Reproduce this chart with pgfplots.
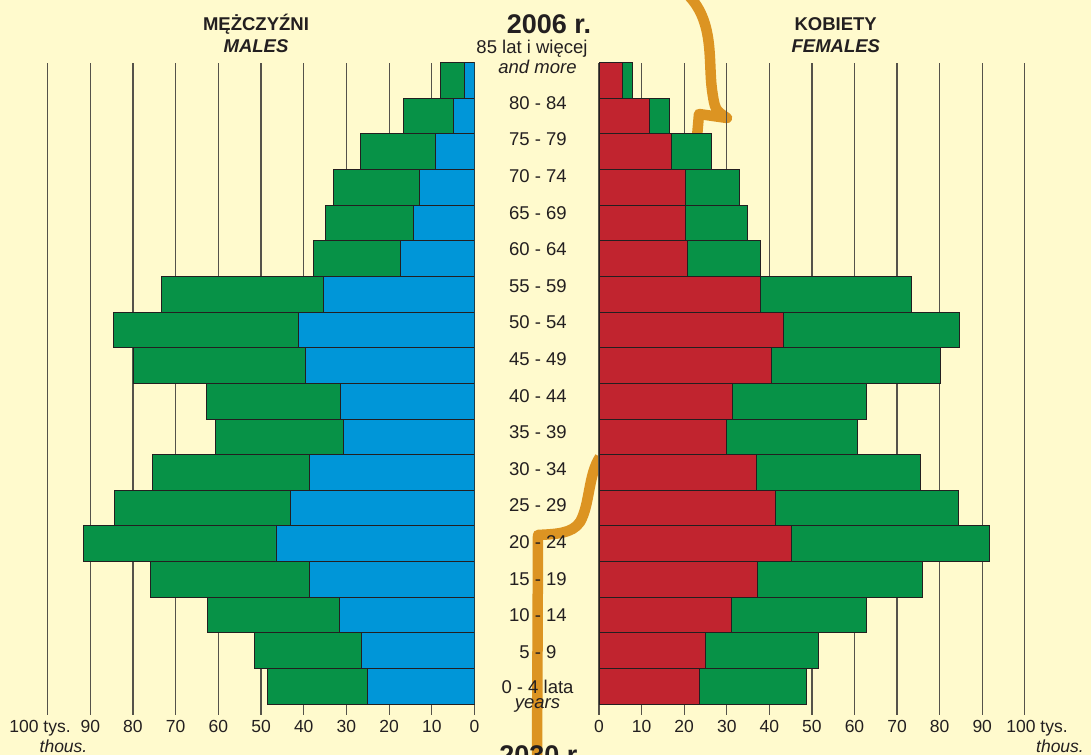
\documentclass[border=0pt]{standalone}
\usepackage{pgfplots}
\pgfplotsset{compat=1.18}
\usepackage{pgfplotstable}
\usepackage{fontspec}
\setmainfont{Liberation Sans}
\definecolor{bg}{HTML}{FFFACD}
\definecolor{mgreen}{HTML}{079247}
\definecolor{mblue}{HTML}{0096D8}
\definecolor{fred}{HTML}{C1242F}
\definecolor{txt}{HTML}{231F20}
\definecolor{grd}{HTML}{55524A}
\definecolor{orng}{HTML}{DC9422}

\pgfplotstableread{
k mt mb ft fr
0 48.6 25.0 48.6 23.5
1 51.5 26.5 51.6 24.9
2 62.6 31.7 62.7 31.0
3 75.8 38.7 75.9 37.2
4 91.6 46.5 91.8 45.3
5 84.4 43.0 84.5 41.5
6 75.5 38.7 75.5 37.0
7 60.7 30.6 60.7 30.0
8 62.7 31.3 62.8 31.4
9 80.0 39.5 80.2 40.6
10 84.6 41.2 84.6 43.4
11 73.3 35.3 73.3 38.0
12 37.8 17.4 37.8 20.7
13 34.8 14.4 34.8 20.2
14 33.1 12.8 32.9 20.2
15 26.6 9.25 26.3 17.1
16 16.7 5.0 16.5 11.8
17 7.9 2.3 7.75 5.5
}\data

\pgfplotsset{
  pyr/.style={
    scale only axis,
    height=652.3bp,
    ymin=-0.809, ymax=17.5,
    xmin=0, xmax=100,
    ytick=\empty,
    xtick={0,10,...,100},
    xticklabels={0,10,20,30,40,50,60,70,80,90,{}},
    /pgf/number format/assume math mode=true,
    xticklabel style={font=\fontsize{17.5bp}{17.5bp}\selectfont, text=txt, inner sep=0pt, yshift=-5.5bp},
    axis line style={draw=none},
    major tick length=0pt,
    xmajorgrids,
    grid style={draw=grd, line width=1.2bp},
    xbar, bar width=1, bar shift=0pt,
    every axis plot/.append style={draw=txt, line width=0.9bp, bar shift=0pt},
  }
}

\newcommand{\lab}{\fontsize{18.5bp}{20bp}\selectfont}

\begin{document}
\begin{tikzpicture}[x=1bp,y=1bp]
\useasboundingbox (0,0) rectangle (1091,755);
\clip (0,0) rectangle (1091,755);
\fill[bg] (0,0) rectangle (1091,755);

% decorative orange connector
\draw[orng, line width=10.5bp, line cap=round, line join=round]
  (686,762) .. controls (715,735) and (708,695) .. (712,665)
  .. controls (715,645) .. (727,637) -- (699,641) -- (697,618);
\draw[orng, line width=10.5bp, line join=round]
  (600,298) .. controls (588,280) and (590,250) .. (580,233)
  .. controls (572,221) and (555,221) .. (538,220) -- (537,-10);

% males
\begin{axis}[pyr, at={(47.6bp,40bp)}, anchor=south west, width=426.9bp, x dir=reverse]
\addplot[fill=mgreen] table[x=mt,y=k]{\data};
\addplot[fill=mblue] table[x=mb,y=k]{\data};
\end{axis}

% females
\begin{axis}[pyr, at={(599bp,40bp)}, anchor=south west, width=425.8bp]
\addplot[fill=mgreen] table[x=ft,y=k]{\data};
\addplot[fill=fred] table[x=fr,y=k]{\data};
\end{axis}

% titles
\begin{scope}[every node/.style={text=txt, inner sep=0pt}]
\node[anchor=base, font=\bfseries\lab] at (256,724.4) {MĘŻCZYŹNI};
\node[anchor=base, font=\bfseries\itshape\lab] at (256,702.9) {MALES};
\node[anchor=base, font=\bfseries\lab] at (835.7,724.4) {KOBIETY};
\node[anchor=base, font=\bfseries\itshape\lab] at (835.8,702.8) {FEMALES};
\node[anchor=base, font=\bfseries\fontsize{27bp}{30bp}\selectfont] at (549,721) {2006 r.};
\node[anchor=base, font=\bfseries\fontsize{27bp}{30bp}\selectfont] at (541.5,-10) {2030 r.};
% age group labels
\node[anchor=base, font=\lab] at (532,701) {85 lat i więcej};
\node[anchor=base, font=\itshape\lab] at (537.5,681.7) {and more};
\foreach \t [count=\i] in {5 - 9,10 - 14,15 - 19,20 - 24,25 - 29,30 - 34,35 - 39,40 - 44,45 - 49,50 - 54,55 - 59,60 - 64,65 - 69,70 - 74,75 - 79,80 - 84}
  \node[font=\lab] at (538,{755-652+(\i-1)*36.6}) {\t};
\node[anchor=base, font=\lab] at (537.5,61) {0 - 4 lata};
\node[anchor=base, font=\itshape\lab] at (537.5,46) {years};
% 100 labels
\node[anchor=base, font=\fontsize{17.5bp}{17.5bp}\selectfont] at (40,22.3) {100 tys.};
\node[anchor=base, font=\itshape\fontsize{17.5bp}{17.5bp}\selectfont] at (63.5,2) {thous.};
\node[anchor=base, font=\fontsize{17.5bp}{17.5bp}\selectfont] at (1037,22.3) {100 tys.};
\node[anchor=base, font=\itshape\fontsize{17.5bp}{17.5bp}\selectfont] at (1060,2) {thous.};
\end{scope}

\end{tikzpicture}
\end{document}
